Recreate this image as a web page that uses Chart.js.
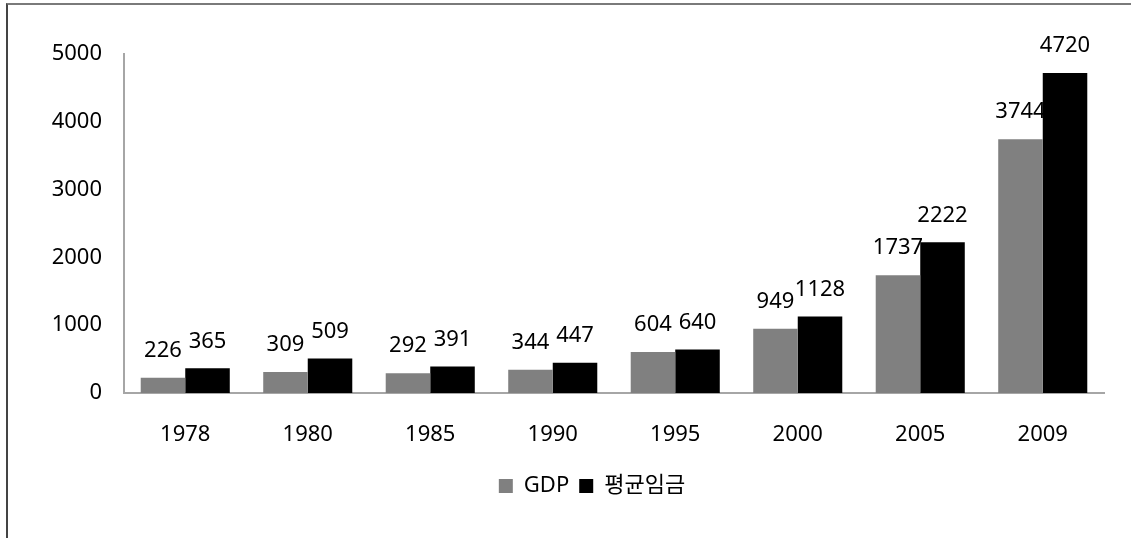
<!DOCTYPE html>
<html>
<head>
<meta charset="utf-8">
<script src="https://cdn.jsdelivr.net/npm/chart.js@4.4.1/dist/chart.umd.min.js"></script>
<style>
  html, body { margin: 0; padding: 0; background: #fff; }
  #wrap { position: relative; width: 1131px; height: 538px; }
  #frame { position: absolute; left: 6px; top: 3px; right: -2px; bottom: -2px;
           border-top: 2px solid #7a7a7a; border-left: 2px solid #444; }
  canvas { position: absolute; left: 0; top: 0; }
</style>
</head>
<body>
<div id="wrap">
  <canvas id="chart" width="1131" height="538"></canvas>
  <div id="frame"></div>
</div>
<script>
// chart data
const years = ['1978', '1980', '1985', '1990', '1995', '2000', '2005', '2009'];
const gdp = [226, 309, 292, 344, 604, 949, 1737, 3744];
const wage = [365, 509, 391, 447, 640, 1128, 2222, 4720];
const seriesNames = ['GDP', '평균임금'];
const yTicks = [0, 1000, 2000, 3000, 4000, 5000];

const FONT = "'Noto Sans', 'Noto Sans CJK KR', sans-serif";

// draws the value above each bar
const valueLabels = {
  id: 'valueLabels',
  afterDatasetsDraw(chart) {
    const ctx = chart.ctx;
    ctx.save();
    ctx.font = '22px ' + FONT;
    ctx.fillStyle = '#000';
    ctx.textAlign = 'center';
    ctx.textBaseline = 'middle';
    chart.data.datasets.forEach((ds, i) => {
      chart.getDatasetMeta(i).data.forEach((bar, j) => {
        ctx.fillText(String(ds.data[j]), bar.x, bar.y - 27);
      });
    });
    ctx.restore();
  }
};

// legend in the original sits a bit right of centre
const shiftLegend = {
  id: 'shiftLegend',
  afterLayout(chart) {
    chart.legend.left += 40;
    chart.legend.right += 40;
  }
};

new Chart(document.getElementById('chart'), {
  type: 'bar',
  data: {
    labels: years,
    datasets: [
      { label: seriesNames[0], data: gdp, backgroundColor: '#808080' },
      { label: seriesNames[1], data: wage, backgroundColor: '#000000' }
    ]
  },
  options: {
    responsive: false,
    animation: false,
    devicePixelRatio: 1,
    layout: { padding: { left: 0, right: 27, top: 54, bottom: 31 } },
    datasets: { bar: { barPercentage: 1, categoryPercentage: 0.727 } },
    scales: {
      x: {
        grid: { display: false },
        border: { display: true, color: '#a6a6a6', width: 2 },
        ticks: { color: '#000', padding: 21, font: { family: FONT, size: 22 } },
        afterFit(scale) { scale.height = 72; }
      },
      y: {
        min: 0,
        max: 5000,
        grid: { display: false },
        border: { display: true, color: '#a6a6a6', width: 2 },
        afterBuildTicks(scale) { scale.ticks = yTicks.map(v => ({ value: v })); },
        ticks: {
          color: '#000',
          padding: 14,
          font: { family: FONT, size: 22 },
          callback: v => String(v)
        },
        afterFit(scale) { scale.width = 124; }
      }
    },
    plugins: {
      legend: {
        position: 'bottom',
        labels: {
          color: '#000',
          boxWidth: 14,
          boxHeight: 14,
          padding: 10,
          font: { family: FONT, size: 22 }
        }
      },
      tooltip: { enabled: false }
    }
  },
  plugins: [valueLabels, shiftLegend]
});
</script>
</body>
</html>
